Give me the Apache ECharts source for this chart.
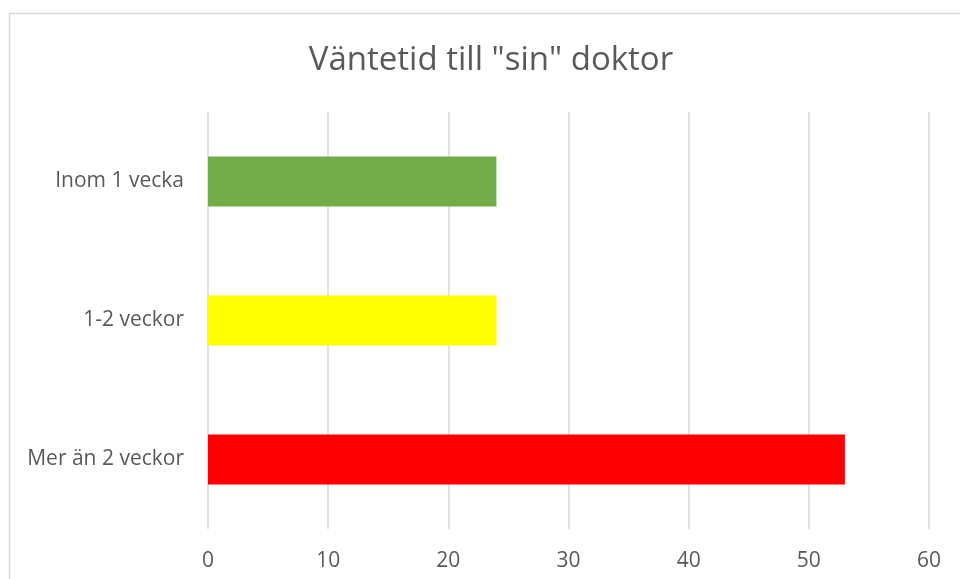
<!DOCTYPE html>
<html><head><meta charset="utf-8">
<script src="https://cdn.jsdelivr.net/npm/echarts@6/dist/echarts.min.js"></script>
<style>html,body{margin:0;padding:0;background:#fff}#c{width:960px;height:579px}</style>
</head><body><div id="c"></div>
<script>
const titleText = 'Väntetid till "sin" doktor';
const categories = ['Inom 1 vecka', '1-2 veckor', 'Mer än 2 veckor'];
const values = [24, 24, 53];
const barColors = ['#70ad47', '#ffff00', '#ff0000'];
const xTicks = [0, 10, 20, 30, 40, 50, 60];

const chart = echarts.init(document.getElementById('c'), null, {renderer: 'canvas'});
const font = '"Open Sans", sans-serif';
chart.setOption({
  animation: false,
  title: {
    text: titleText, left: 486, top: 39, textAlign: 'center',
    textStyle: {fontFamily: font, fontSize: 33, fontWeight: 'normal', color: '#595959'}
  },
  graphic: [{
    type: 'rect', shape: {x: 9.5, y: 13.5, width: 1000, height: 700},
    style: {fill: 'none', stroke: '#d9d9d9', lineWidth: 1.5}, silent: true, z: -1
  }],
  grid: {left: 208, right: 31, top: 112, bottom: 50, containLabel: false},
  xAxis: {
    type: 'value', min: xTicks[0], max: xTicks[xTicks.length - 1], interval: 10,
    axisLine: {show: false}, axisTick: {show: false},
    splitLine: {show: true, lineStyle: {color: '#d9d9d9', width: 1.5}},
    axisLabel: {fontFamily: font, fontSize: 21, color: '#595959', margin: 22}
  },
  yAxis: {
    type: 'category', data: categories, inverse: true,
    axisLine: {show: false}, axisTick: {show: false},
    axisLabel: {fontFamily: font, fontSize: 21, color: '#595959', margin: 24}
  },
  series: [{
    type: 'bar', barCategoryGap: '64%',
    data: values.map((v, i) => ({value: v, itemStyle: {color: barColors[i]}}))
  }]
});
</script></body></html>
